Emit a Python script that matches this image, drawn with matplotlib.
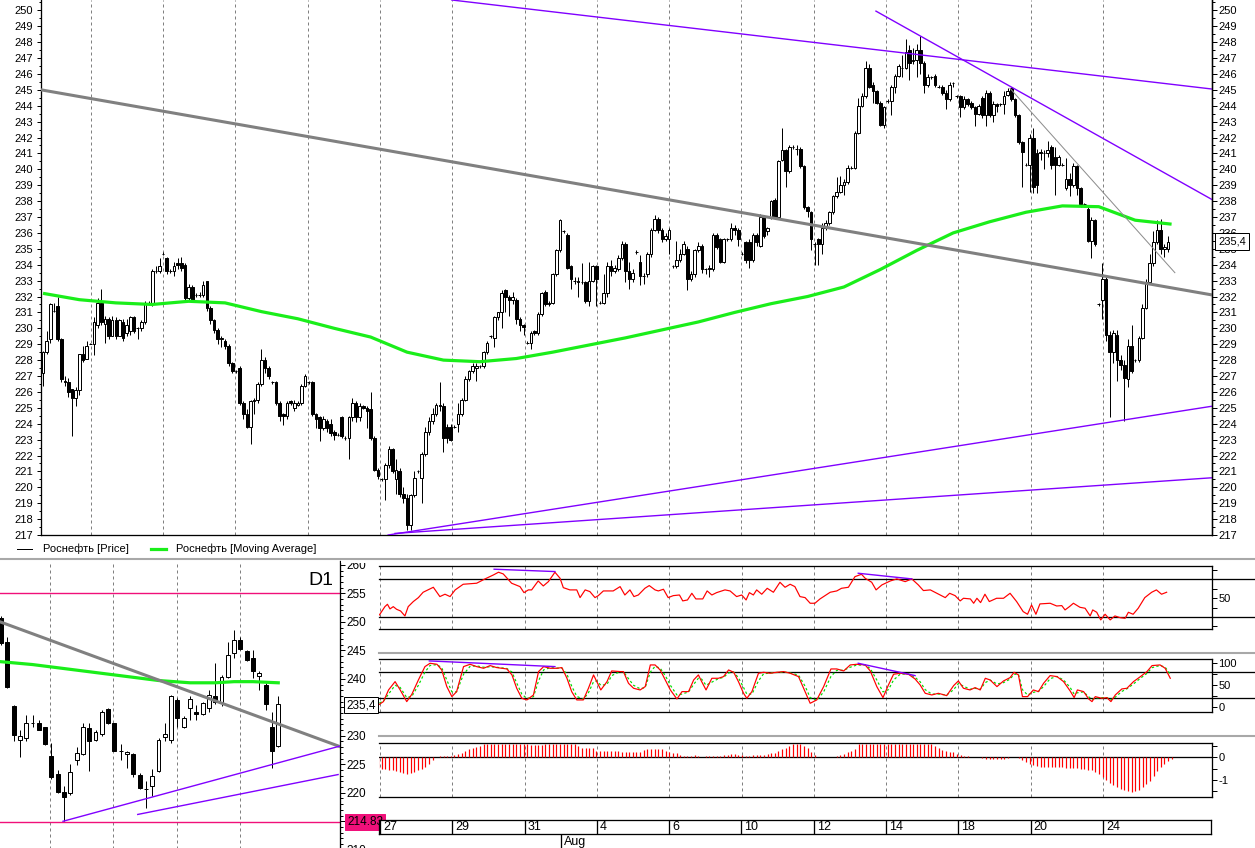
import numpy as np
import matplotlib

matplotlib.use("Agg")

import matplotlib.pyplot as plt
from matplotlib.lines import Line2D
from matplotlib.patches import Rectangle
from matplotlib.ticker import MultipleLocator

plt.rcParams["font.family"] = ["Liberation Sans", "DejaVu Sans"]
plt.rcParams["font.size"] = 8

W, H = 1255, 848
PX = 0.72  # one screen pixel in points
GREEN = "#1aee1a"
PURPLE = "#8000ff"
PINK = "#f0107a"
GRAY = "#808080"
SEP = "#a8a8a8"

# ---------------- hourly candles (main chart) ----------------
OPEN = [
    227.2, 228.5, 229.3, 231.1, 231.4, 229.3, 226.7, 226.6, 226.2, 225.6,
    226.1, 228.4, 228.1, 229.0, 229.0, 230.2, 231.6, 230.3, 230.6, 229.5,
    230.5, 229.5, 230.4, 229.7, 229.8, 230.7, 230.0, 230.0, 230.4, 231.6,
    231.5, 233.6, 233.6, 234.7, 234.4, 233.6, 233.6, 234.1, 234.1, 234.0,
    231.9, 232.6, 232.1, 232.1, 232.1, 233.0, 231.3, 230.5, 229.9, 229.3,
    229.2, 228.9, 227.8, 227.3, 227.5, 225.3, 224.6, 223.8, 225.4, 225.5,
    226.5, 228.0, 227.5, 226.6, 226.6, 225.3, 224.6, 224.5, 225.4, 225.0,
    225.2, 225.3, 226.4, 226.6, 226.6, 224.6, 224.4, 223.7, 224.2, 224.0,
    223.5, 223.3, 224.4, 223.1, 223.1, 224.4, 225.3, 224.4, 225.1, 225.0,
    224.9, 223.1, 221.1, 220.5, 220.5, 221.4, 222.4, 220.5, 221.0, 219.6,
    219.3, 217.6, 219.5, 221.0, 220.6, 222.1, 223.5, 224.2, 224.6, 225.2,
    225.1, 223.8, 223.8, 223.8, 224.0, 224.6, 225.5, 226.8, 227.3, 227.5,
    227.6, 227.6, 228.5, 229.5, 229.4, 230.7, 231.0, 232.4, 232.0, 231.8,
    231.8, 230.6, 230.2, 229.1, 229.1, 229.8, 229.7, 230.9, 232.3, 231.5,
    231.6, 233.4, 234.9, 236.1, 235.9, 233.9, 233.0, 232.9, 232.9, 232.9,
    231.7, 233.0, 233.9, 231.6, 231.6, 232.2, 233.9, 233.6, 233.7, 234.4,
    235.3, 233.6, 233.1, 234.8, 234.2, 233.3, 233.4, 234.7, 236.2, 236.9,
    236.2, 235.6, 235.6, 233.9, 233.9, 234.3, 234.7, 235.0, 233.1, 233.4,
    234.9, 235.2, 233.7, 233.8, 233.7, 235.9, 235.6, 234.2, 235.6, 235.6,
    236.3, 236.2, 234.7, 235.4, 235.4, 234.3, 235.9, 235.2, 237.0, 236.1,
    237.0, 238.1, 237.0, 240.6, 241.2, 239.9, 241.4, 241.3, 241.3, 240.2,
    237.6, 237.3, 235.3, 235.6, 235.3, 236.3, 236.6, 237.3, 238.3, 238.6,
    239.0, 239.2, 240.1, 240.1, 242.3, 244.0, 244.6, 246.4, 245.3, 244.9,
    244.2, 242.8, 244.3, 244.3, 245.2, 245.9, 246.4, 246.4, 247.5, 246.8,
    246.9, 247.5, 246.7, 245.3, 245.8, 245.9, 245.2, 245.2, 244.8, 244.4,
    245.4, 244.6, 244.6, 243.9, 244.4, 244.2, 243.9, 243.5, 244.5, 243.4,
    244.8, 243.4, 244.1, 244.1, 244.1, 244.7, 245.1, 244.4, 243.4, 241.7,
    240.3, 240.3, 242.0, 241.0, 241.0, 241.0, 241.0, 241.4, 240.8, 240.3,
    240.3, 238.8, 239.4, 239.0, 240.2, 238.8, 237.8, 237.5, 235.5, 236.8,
    231.5, 231.8, 233.1, 229.6, 228.5, 229.6, 228.0, 227.7, 226.8, 228.9,
    228.0, 228.0, 229.4, 231.3, 232.9, 234.1, 235.4, 236.2, 235.0, 235.0,
]
CLOSE = [
    228.5, 229.2, 231.5, 231.1, 229.3, 226.8, 226.6, 226.0, 225.6, 226.1,
    228.4, 228.0, 228.9, 229.0, 230.4, 231.6, 230.4, 230.6, 229.5, 230.5,
    229.5, 230.5, 229.4, 230.2, 230.7, 229.8, 230.0, 230.4, 231.6, 231.6,
    233.6, 233.6, 233.9, 234.7, 233.6, 233.6, 233.9, 234.0, 233.8, 231.9,
    232.6, 231.8, 232.1, 232.1, 232.7, 231.3, 230.5, 229.9, 229.3, 229.4,
    228.9, 227.8, 227.3, 227.3, 225.3, 224.6, 223.8, 225.4, 225.5, 226.5,
    228.0, 227.5, 227.0, 226.6, 225.3, 224.5, 224.5, 225.3, 225.3, 225.3,
    225.3, 226.4, 227.0, 226.6, 224.6, 224.3, 223.7, 224.3, 223.7, 223.4,
    223.3, 223.3, 223.2, 223.1, 224.4, 225.3, 224.4, 225.1, 225.0, 224.8,
    223.1, 221.1, 220.7, 220.5, 221.4, 222.4, 221.0, 221.1, 219.6, 219.3,
    217.6, 219.5, 220.6, 221.0, 222.1, 223.5, 224.2, 224.6, 225.2, 225.1,
    223.1, 223.1, 223.0, 223.8, 224.6, 225.5, 226.8, 227.3, 227.6, 227.6,
    227.6, 228.5, 229.1, 229.5, 230.7, 231.0, 232.2, 232.0, 231.8, 232.0,
    230.6, 230.2, 230.1, 229.1, 229.7, 229.7, 230.9, 232.2, 231.5, 231.6,
    233.4, 234.9, 236.8, 236.1, 233.8, 233.1, 233.0, 233.0, 232.9, 231.7,
    233.0, 233.9, 233.1, 231.6, 232.2, 233.9, 233.6, 233.8, 234.4, 235.3,
    233.6, 233.1, 233.5, 234.8, 233.3, 233.3, 234.7, 236.2, 236.9, 236.2,
    235.6, 235.8, 236.2, 233.9, 234.3, 234.7, 235.3, 233.1, 233.4, 234.9,
    235.2, 233.7, 233.7, 233.7, 235.9, 235.1, 234.2, 235.6, 235.6, 236.3,
    236.2, 235.6, 234.7, 234.3, 234.3, 235.9, 235.4, 237.0, 235.8, 236.3,
    238.0, 237.0, 240.5, 241.2, 239.9, 241.4, 241.4, 241.3, 240.2, 237.6,
    237.4, 235.6, 235.3, 235.3, 236.3, 236.6, 237.3, 238.3, 238.6, 239.0,
    239.2, 240.1, 240.1, 242.3, 244.0, 244.6, 246.4, 245.2, 244.9, 244.2,
    242.8, 243.9, 244.3, 245.2, 245.9, 246.5, 246.4, 247.4, 246.7, 246.9,
    247.5, 246.7, 245.3, 245.8, 245.8, 245.3, 245.2, 244.8, 244.4, 245.3,
    245.4, 244.6, 243.9, 244.4, 244.1, 243.9, 243.5, 244.0, 243.4, 244.8,
    243.4, 244.1, 244.0, 244.1, 244.6, 244.9, 244.4, 243.4, 241.7, 241.1,
    240.3, 242.0, 238.9, 239.0, 241.1, 241.0, 241.2, 240.3, 240.3, 240.8,
    240.3, 239.4, 239.0, 240.2, 238.8, 237.8, 237.8, 235.5, 236.8, 235.3,
    231.5, 233.1, 229.6, 228.5, 229.7, 228.0, 227.7, 226.9, 228.9, 227.3,
    228.0, 229.4, 231.3, 232.9, 234.1, 235.4, 236.2, 235.0, 235.1, 235.4,
]
HIGH = [
    228.6, 229.8, 231.6, 231.6, 232.0, 229.4, 227.0, 226.9, 226.2, 226.3,
    228.4, 228.9, 229.2, 229.1, 230.7, 231.9, 232.5, 230.8, 230.7, 230.8,
    230.7, 230.6, 230.6, 230.6, 230.8, 230.8, 230.1, 230.5, 231.7, 231.7,
    233.7, 233.9, 234.4, 234.8, 234.5, 233.7, 234.2, 234.4, 234.5, 234.1,
    232.8, 232.7, 232.2, 232.3, 233.0, 233.0, 231.4, 230.6, 230.0, 229.5,
    229.3, 229.0, 227.9, 227.4, 227.6, 225.4, 224.9, 225.5, 225.6, 226.6,
    228.7, 228.2, 227.6, 226.7, 226.7, 225.4, 224.7, 225.4, 225.5, 225.5,
    225.4, 226.5, 227.1, 226.7, 226.7, 224.7, 224.5, 224.5, 224.3, 224.3,
    223.6, 223.4, 224.5, 223.2, 224.5, 225.6, 225.4, 225.3, 225.2, 225.1,
    226.0, 223.2, 221.2, 220.6, 221.5, 222.6, 222.5, 221.8, 221.2, 220.0,
    219.6, 219.6, 221.0, 221.1, 222.2, 223.8, 224.4, 225.0, 225.3, 226.6,
    225.3, 224.0, 224.0, 223.9, 225.3, 225.6, 227.0, 227.4, 227.8, 227.8,
    227.7, 228.6, 229.2, 229.6, 230.8, 231.0, 232.4, 232.5, 232.1, 232.3,
    231.9, 230.7, 230.3, 229.2, 229.8, 229.9, 231.0, 232.3, 232.4, 231.7,
    233.5, 235.0, 236.9, 236.2, 236.0, 234.0, 233.2, 233.2, 234.1, 233.0,
    234.2, 234.0, 234.0, 231.7, 233.4, 234.2, 234.3, 234.0, 234.6, 235.5,
    235.4, 234.2, 233.7, 234.9, 234.6, 233.5, 234.8, 236.3, 237.1, 237.0,
    236.3, 236.0, 236.3, 234.0, 235.5, 235.0, 235.5, 235.2, 233.6, 235.0,
    235.4, 235.3, 233.8, 234.0, 236.0, 236.0, 235.7, 235.7, 235.7, 236.6,
    236.5, 236.3, 234.8, 235.5, 235.6, 236.0, 236.0, 237.2, 237.1, 236.4,
    238.1, 238.2, 240.6, 242.6, 241.3, 241.5, 241.5, 241.5, 241.4, 240.3,
    237.7, 237.4, 235.4, 235.7, 236.6, 236.8, 237.4, 238.4, 239.5, 239.6,
    239.4, 240.3, 240.2, 242.4, 244.5, 244.8, 246.8, 246.6, 245.5, 245.0,
    244.3, 244.0, 244.4, 245.3, 246.0, 246.6, 247.2, 248.2, 247.8, 247.6,
    247.9, 248.4, 246.8, 246.0, 245.9, 246.0, 245.3, 245.3, 245.0, 245.5,
    245.5, 244.7, 244.7, 244.6, 244.5, 244.3, 244.0, 244.1, 244.6, 245.0,
    244.9, 244.3, 244.2, 244.2, 244.9, 245.1, 245.2, 244.5, 243.5, 241.8,
    240.4, 242.2, 242.6, 241.3, 241.3, 241.2, 241.8, 241.5, 241.4, 240.9,
    240.4, 240.7, 239.8, 240.4, 240.3, 238.9, 237.9, 237.6, 237.0, 236.9,
    231.6, 234.1, 233.2, 229.8, 229.9, 229.9, 228.3, 228.0, 229.3, 230.2,
    228.1, 229.5, 231.5, 233.1, 234.7, 236.1, 236.8, 236.9, 235.3, 235.8,
]
LOW = [
    226.4, 228.4, 229.1, 231.0, 229.2, 226.6, 226.4, 225.7, 223.2, 225.1,
    225.8, 227.9, 228.1, 229.0, 228.3, 230.0, 230.2, 229.1, 229.3, 229.5,
    229.3, 229.5, 229.2, 229.5, 229.6, 229.7, 229.3, 229.8, 230.3, 231.5,
    231.4, 233.5, 233.5, 234.6, 233.4, 233.5, 233.3, 233.7, 233.6, 231.8,
    231.7, 231.7, 232.0, 232.0, 232.0, 231.1, 230.3, 229.7, 229.0, 228.8,
    228.7, 227.6, 227.2, 227.2, 225.2, 224.3, 223.7, 222.7, 224.6, 225.3,
    226.4, 227.2, 226.8, 226.5, 225.2, 224.2, 223.9, 224.3, 225.2, 224.8,
    225.1, 225.2, 226.3, 226.5, 224.5, 223.7, 222.9, 223.6, 223.5, 223.2,
    223.0, 223.2, 223.1, 223.0, 221.8, 224.2, 224.1, 224.2, 224.9, 223.7,
    223.0, 221.0, 220.5, 220.4, 219.2, 221.2, 220.9, 219.6, 219.4, 219.0,
    217.3, 217.3, 219.4, 220.9, 219.0, 222.0, 223.3, 224.0, 224.5, 224.8,
    222.2, 222.8, 222.9, 223.7, 223.5, 224.5, 225.4, 226.7, 227.2, 226.7,
    227.5, 227.5, 228.4, 229.4, 228.8, 230.5, 230.0, 231.0, 230.8, 231.5,
    230.3, 229.8, 229.6, 229.0, 228.7, 229.6, 229.6, 230.8, 231.4, 231.4,
    231.5, 233.3, 234.8, 236.0, 233.7, 232.5, 232.8, 232.0, 232.8, 231.6,
    231.4, 232.9, 231.4, 231.5, 231.5, 232.0, 233.3, 233.5, 233.6, 234.3,
    232.9, 232.5, 232.9, 234.7, 232.7, 232.8, 233.2, 234.5, 236.1, 236.0,
    235.4, 235.5, 234.7, 233.8, 233.8, 234.2, 234.6, 232.4, 233.0, 233.2,
    234.8, 233.5, 233.4, 233.2, 233.6, 235.0, 234.1, 234.1, 235.5, 235.5,
    235.9, 235.2, 234.6, 234.1, 233.8, 234.2, 235.2, 235.1, 235.7, 235.9,
    236.9, 236.9, 236.9, 240.5, 238.9, 239.8, 241.3, 240.9, 240.1, 237.5,
    237.0, 234.9, 234.0, 234.0, 234.7, 236.2, 236.5, 237.2, 238.2, 238.5,
    238.4, 239.1, 240.0, 240.0, 242.2, 243.9, 244.5, 245.1, 244.2, 244.1,
    242.7, 242.6, 244.2, 243.4, 244.8, 245.8, 245.8, 246.3, 245.6, 246.6,
    245.8, 246.0, 244.8, 245.2, 245.7, 245.2, 245.1, 244.7, 243.8, 244.3,
    245.2, 244.5, 243.3, 243.8, 244.0, 243.8, 242.7, 243.4, 243.2, 242.7,
    243.3, 243.0, 243.6, 244.0, 243.5, 244.6, 244.3, 243.3, 241.6, 238.9,
    240.2, 238.6, 238.5, 238.5, 240.6, 240.0, 240.8, 240.0, 238.4, 240.2,
    240.2, 238.7, 238.3, 238.9, 238.4, 237.6, 237.6, 235.4, 234.4, 235.2,
    231.4, 230.6, 229.2, 224.4, 227.8, 226.7, 227.4, 224.2, 226.3, 227.2,
    227.9, 227.9, 229.3, 231.2, 232.8, 233.9, 235.3, 234.7, 234.5, 234.8,
]

# moving average, read every 10th candle
MA_IDX = list(range(0, 320, 10))
MA_VAL = [
    232.2, 231.8, 231.6, 231.5, 231.7, 231.6, 231.05, 230.6, 230.0, 229.45,
    228.5, 228.0, 227.9, 228.1, 228.5, 228.95, 229.4, 229.9, 230.4, 231.0,
    231.55, 232.0, 232.6, 233.7, 234.9, 236.0, 236.7, 237.3, 237.7, 237.65,
    236.8, 236.55,
]

# drawn lines on the main chart: (candle index, price) end points
GRAY_TREND = [(-0.55, 245.0), (321.1, 232.1)]
THIN_TREND = [(265.6, 245.1), (310.9, 233.5)]
PURPLE_TRENDS = [
    [(112.3, 250.65), (321.1, 245.05)],
    [(228.8, 249.95), (321.1, 238.1)],
    [(94.8, 217.0), (321.1, 225.1)],
    [(96.7, 217.1), (321.1, 220.6)],
]
LAST_PRICE = 235.4

# session grid (every two trading days) and date labels
GRID_FIRST = 13.1
GRID_STEP = 19.86
N_GRID = 15
DATE_LABELS = ["27", "29", "31", "4", "6", "10", "12", "14", "18", "20", "24"]
FIRST_LABELLED = 4

# ---------------- daily candles (D1 panel) ----------------
D_OPEN = [250.6, 246.4, 235.2, 229.2, 229.7, 232.3, 232.3, 231.5, 226.5, 223.3,
          220.2, 220.0, 225.8, 226.8, 231.3, 229.3, 230.3, 234.7, 232.2, 227.3,
          226.8, 226.8, 223.2, 220.6, 221.2, 223.9, 229.8, 229.2, 236.3, 231.6,
          234.8, 234.2, 233.8, 234.8, 237.0, 236.0, 240.4, 244.5, 246.8, 244.8,
          243.6, 240.5, 238.9, 231.6, 228.2]
D_CLOSE = [246.2, 238.6, 230.1, 230.0, 232.3, 232.3, 231.1, 228.6, 222.8, 220.2,
           219.2, 223.7, 227.0, 231.6, 229.0, 230.6, 234.2, 232.2, 227.4, 227.3,
           227.1, 223.3, 220.8, 220.6, 223.0, 229.3, 230.3, 236.9, 233.2, 233.2,
           236.4, 233.8, 235.7, 237.2, 236.0, 240.4, 244.2, 246.8, 245.2, 243.3,
           241.4, 241.0, 235.6, 227.4, 235.6]
D_HIGH = [251.0, 247.4, 235.4, 231.0, 233.6, 233.6, 232.8, 231.6, 228.8, 224.0,
          221.2, 225.0, 228.0, 232.3, 232.3, 231.0, 234.5, 234.9, 232.3, 228.6,
          227.4, 227.0, 223.4, 222.0, 224.2, 229.6, 232.3, 237.2, 236.6, 233.5,
          236.9, 235.4, 236.0, 238.1, 242.8, 240.6, 246.5, 248.5, 247.4, 245.1,
          245.1, 241.3, 239.2, 234.2, 237.0]
D_LOW = [246.0, 238.3, 229.0, 226.3, 229.0, 231.6, 231.0, 228.4, 222.5, 220.0,
         215.0, 219.6, 224.9, 226.6, 223.8, 229.0, 230.0, 232.0, 227.3, 225.8,
         224.4, 222.8, 220.6, 217.4, 219.5, 223.6, 229.0, 228.8, 231.6, 231.3,
         232.8, 232.7, 233.6, 234.2, 235.6, 235.3, 240.2, 243.6, 245.0, 243.1,
         240.1, 238.0, 234.6, 224.4, 228.0]
D_MA_IDX = [0, 5, 10, 15, 20, 25, 30, 34, 37, 40, 44]
D_MA_VAL = [243.0, 242.5, 241.8, 241.1, 240.4, 239.7, 239.3, 239.3, 239.5, 239.5, 239.3]
D_GRAY = [(-0.16, 250.0), (53.8, 228.1)]
D_PURPLE = [[(9.84, 215.0), (53.8, 228.2)], [(21.7, 216.2), (53.5, 223.2)]]
D_LEVELS = [255.0, 214.83]
D_GRID = [7.8, 17.8, 27.9, 37.9]
D_TICKS = [210, 215, 220, 225, 230, 235, 240, 245, 250, 255, 260]
D_HIDDEN = [215, 235]  # covered by the price boxes in the original

# ---------------- indicators ----------------
RSI_PTS = [
    (92.4, 32.3), (93.9, 41.1), (94.6, 43.6), (95.3, 38.7), (96.2, 41.1), (97.1, 38.3),
    (98.2, 36.5), (99.4, 31.2), (100.3, 41.1), (101.7, 46.5), (103.1, 50.7), (104.4, 56.4),
    (107.2, 61.7), (109.0, 51.8), (110.4, 54.3), (111.8, 51.8), (113.2, 58.9), (115.4, 64.9),
    (119.1, 66.0), (121.4, 70.6), (123.7, 74.8), (125.1, 77.7), (126.4, 75.9), (128.7, 66.0),
    (131.0, 62.4), (132.1, 56.0), (133.3, 58.9), (134.2, 58.9), (136.0, 68.4), (137.4, 63.1),
    (138.8, 67.7), (140.6, 77.7), (142.0, 71.3), (142.9, 61.3), (144.7, 58.9), (146.6, 58.9),
    (147.5, 50.7), (148.9, 58.9), (150.2, 57.1), (151.6, 50.7), (152.5, 52.8), (153.9, 57.8),
    (156.6, 57.8), (158.5, 62.4), (159.8, 53.5), (161.2, 58.9), (162.3, 51.8), (163.5, 53.5),
    (165.3, 60.6), (166.5, 63.5), (168.1, 58.9), (169.0, 57.8), (170.4, 59.6), (171.7, 50.7),
    (173.1, 52.8), (174.8, 53.5), (175.7, 47.2), (177.0, 48.2), (178.2, 55.3), (179.3, 49.3),
    (181.2, 49.3), (182.4, 57.8), (183.7, 53.5), (185.0, 56.0), (187.3, 58.9), (188.7, 57.8),
    (190.5, 51.8), (191.9, 53.5), (193.1, 48.2), (194.0, 56.0), (195.1, 53.5), (196.0, 58.9),
    (197.4, 54.3), (198.9, 60.6), (200.6, 56.4), (202.4, 67.0), (203.8, 61.7), (205.2, 64.9),
    (206.5, 62.4), (207.9, 51.8), (209.3, 50.7), (210.7, 44.7), (212.0, 44.7), (213.4, 49.3),
    (216.2, 56.4), (218.0, 57.8), (219.3, 60.6), (221.2, 61.7), (223.0, 73.0), (224.8, 75.5),
    (225.8, 71.3), (227.6, 67.0), (228.8, 58.9), (230.4, 64.2), (232.7, 68.4), (234.5, 70.6),
    (236.8, 67.7), (238.6, 70.6), (240.4, 64.2), (241.8, 58.2), (243.7, 58.9), (245.5, 55.3),
    (247.8, 50.7), (249.0, 55.3), (250.5, 52.8), (251.9, 47.2), (252.8, 50.0), (254.7, 49.3),
    (255.6, 44.7), (256.5, 50.0), (257.5, 45.4), (258.7, 54.3), (259.9, 46.5), (261.9, 50.0),
    (263.8, 50.0), (265.6, 55.3), (267.4, 46.5), (269.2, 35.8), (270.4, 33.0), (271.5, 42.9),
    (272.7, 33.0), (273.8, 44.0), (276.6, 44.7), (278.4, 41.8), (279.8, 42.2), (280.7, 37.6),
    (281.9, 41.1), (283.0, 44.7), (284.8, 40.4), (286.2, 39.4), (287.6, 31.2), (288.3, 37.6),
    (289.4, 35.1), (290.5, 27.0), (291.7, 33.0), (293.1, 27.0), (294.4, 31.2), (295.8, 29.4),
    (297.2, 28.7), (298.1, 35.1), (299.4, 33.0), (300.8, 39.4), (302.6, 50.7), (304.5, 56.4),
    (305.8, 58.9), (307.2, 54.3), (308.6, 56.4),
]
RSI_DIVERGENCE = [[(123.9, 80.9), (140.6, 78.4)], [(223.9, 76.6), (238.6, 70.6)]]

# stochastic: (candle index, %K, %D)
STOCH_PTS = [
    (92.4, 6.8, 10), (93.5, 12.9, 14), (94.9, 39.4, 30), (96.7, 58.3, 50), (98.1, 39.4, 45),
    (99.9, 12.9, 22), (101.3, 29.5, 25), (103.1, 62.1, 50), (104.9, 92.4, 80), (106.3, 100, 95),
    (108.2, 97.7, 97), (109.5, 84.8, 90), (110.9, 47, 62), (112.3, 24.2, 35), (113.6, 35.6, 35),
    (115.5, 92.4, 75), (117.3, 97.7, 93), (119.1, 92.4, 94), (121.0, 88.6, 91), (122.8, 94.7, 92),
    (124.6, 90.2, 91), (127.4, 87.1, 88), (128.8, 73.5, 80), (130.1, 43.2, 55), (131.5, 20.5, 30),
    (132.9, 16.7, 20), (134.7, 28, 24), (136.1, 81.1, 60), (137.5, 92.4, 85), (139.3, 88.6, 90),
    (141.1, 88.6, 89), (142.5, 90.2, 89), (143.9, 65.9, 75), (145.2, 35.6, 48), (146.6, 16.7, 25),
    (148.4, 16.7, 18), (149.8, 43.2, 33), (151.2, 73.5, 58), (152.1, 58.3, 60), (153.2, 39.4, 50),
    (154.9, 58.3, 52), (156.2, 82.6, 72), (158.5, 81.1, 81), (159.4, 81.1, 81), (160.8, 54.5, 65),
    (162.2, 43.2, 50), (164.0, 39.4, 42), (165.4, 47, 45), (166.8, 96.2, 80), (168.1, 96.2, 93),
    (169.5, 84.8, 89), (170.9, 62.1, 72), (172.3, 39.4, 50), (174.1, 18.9, 28), (175.5, 35.6, 30),
    (177.3, 35.6, 35), (178.7, 62.1, 52), (180.0, 73.5, 66), (180.9, 58.3, 64), (182.1, 39.4, 50),
    (183.7, 65.9, 57), (185.5, 65.9, 65), (186.9, 69.7, 68), (188.3, 84.8, 78), (189.7, 79.5, 80),
    (191.0, 58.3, 67), (192.4, 31.8, 45), (193.3, 20.5, 30), (194.7, 35.6, 30), (196.5, 77.3, 60),
    (197.9, 79.5, 76), (199.7, 77.3, 78), (201.6, 79.5, 79), (203.4, 81.1, 80), (205.2, 77.3, 78),
    (207.5, 69.7, 73), (209.3, 35.6, 48), (210.7, 9.1, 22), (212.5, 16.7, 16), (214.4, 47, 35),
    (216.4, 87.1, 70), (218.0, 87.1, 84), (219.9, 82.6, 84), (221.7, 96.2, 91), (223.5, 97.7, 96),
    (225.8, 96.2, 96), (227.2, 82.6, 88), (229.0, 47, 62), (230.7, 22, 35), (232.2, 50.8, 40),
    (233.6, 75, 62), (235.4, 77.3, 75), (237.7, 75, 76), (239.5, 64.4, 68), (240.9, 50.8, 58),
    (242.3, 31.8, 40), (244.1, 28, 30), (245.9, 31.8, 30), (248.2, 26.5, 28), (250.1, 49.2, 40),
    (251.4, 59.8, 54), (252.8, 43.2, 48), (254.6, 39.4, 41), (256.0, 44.7, 43), (257.4, 39.4, 41),
    (258.8, 65.9, 56), (260.1, 62.1, 62), (262.0, 47, 53), (263.8, 59.8, 56), (265.6, 67.4, 64),
    (266.7, 79.5, 75), (267.9, 73.5, 75), (269.0, 24.2, 40), (270.4, 24.2, 28), (272.0, 39.4, 34),
    (273.4, 35.6, 36), (274.8, 54.5, 47), (276.6, 72, 65), (278.5, 69.7, 70), (280.3, 58.3, 62),
    (282.1, 37.1, 45), (283.2, 22, 30), (284.1, 39.4, 33), (285.8, 35.6, 35), (287.2, 18.9, 24),
    (288.1, 12.9, 17), (289.0, 24.2, 21), (290.8, 20.5, 22), (292.2, 22, 22), (293.3, 12.9, 17),
    (294.5, 28, 23), (296.3, 41.7, 36), (297.7, 43.2, 42), (299.5, 58.3, 53), (301.4, 69.7, 66),
    (303.2, 81.1, 77), (304.6, 94.7, 90), (306.8, 96.2, 95), (308.2, 88.6, 91), (309.6, 65.9, 75),
]
STOCH_DIVERGENCE = [[(106.1, 105.3), (140.6, 92.4)], [(223.9, 100.0), (239.5, 72.0)]]

MACD_START = 92
MACD_HIST = [
    -0.47, -0.50, -0.53, -0.55, -0.57, -0.60, -0.64, -0.70, -0.72, -0.71,
    -0.65, -0.58, -0.53, -0.42, -0.30, -0.12, 0.00, 0.06, 0.07, 0.06,
    0.05, 0.10, 0.14, 0.22, 0.29, 0.37, 0.44, 0.48, 0.53, 0.58,
    0.60, 0.60, 0.60, 0.60, 0.60, 0.60, 0.60, 0.60, 0.60, 0.60,
    0.60, 0.60, 0.56, 0.56, 0.56, 0.57, 0.58, 0.60, 0.60, 0.60,
    0.60, 0.60, 0.60, 0.60, 0.60, 0.50, 0.44, 0.44, 0.44, 0.44,
    0.30, 0.29, 0.29, 0.29, 0.29, 0.29, 0.29, 0.26, 0.25, 0.25,
    0.24, 0.24, 0.26, 0.33, 0.38, 0.38, 0.38, 0.38, 0.38, 0.30,
    0.25, 0.22, 0.19, 0.12, 0.08, 0.06, 0.08, 0.10, 0.06, 0.03,
    0.06, 0.06, 0.07, 0.07, 0.08, 0.10, 0.11, 0.15, 0.14, 0.13,
    0.10, 0.08, 0.07, 0.10, 0.10, 0.10, 0.13, 0.15, 0.20, 0.21,
    0.28, 0.36, 0.44, 0.50, 0.60, 0.60, 0.58, 0.50, 0.42, 0.25,
    0.12, 0.04, 0.03, 0.03, 0.03, 0.04, 0.08, 0.11, 0.16, 0.23,
    0.30, 0.40, 0.58, 0.60, 0.60, 0.60, 0.60, 0.60, 0.60, 0.60,
    0.60, 0.60, 0.60, 0.60, 0.60, 0.60, 0.60, 0.60, 0.60, 0.60,
    0.60, 0.60, 0.58, 0.52, 0.44, 0.35, 0.29, 0.26, 0.24, 0.16,
    0.12, 0.08, 0.05, 0.03, 0.00, 0.00, -0.03, -0.05, -0.06, -0.07,
    -0.07, -0.06, -0.05, -0.03, 0.00, 0.00, -0.04, -0.12, -0.20, -0.27,
    -0.33, -0.40, -0.41, -0.41, -0.41, -0.41, -0.41, -0.41, -0.42, -0.45,
    -0.47, -0.48, -0.48, -0.50, -0.52, -0.55, -0.58, -0.63, -0.76, -0.88,
    -1.00, -1.12, -1.23, -1.34, -1.42, -1.47, -1.52, -1.53, -1.52, -1.45,
    -1.33, -1.18, -1.03, -0.83, -0.62, -0.42, -0.28, -0.16, -0.08,
]

# ---------------- layout helpers ----------------
fig = plt.figure(figsize=(W / 100, H / 100), dpi=100)
fig.patch.set_facecolor("white")


def px_axes(x0, y0, x1, y1):
    return fig.add_axes([x0 / W, 1 - y1 / H, (x1 - x0) / W, (y1 - y0) / H])


def fig_line(x0, y0, x1, y1, **kw):
    fig.add_artist(Line2D([x0 / W, x1 / W], [1 - y0 / H, 1 - y1 / H],
                          transform=fig.transFigure, **kw))


def draw_candles(ax, o, h, l, c, width):
    o, h, l, c = map(np.asarray, (o, h, l, c))
    x = np.arange(len(o))
    ax.vlines(x, l, h, color="black", lw=PX, zorder=2)
    up = c >= o
    bottom = np.minimum(o, c)
    height = np.abs(c - o)
    ax.bar(x[up], height[up], width, bottom=bottom[up], facecolor="white",
           edgecolor="black", lw=PX, zorder=3)
    ax.bar(x[~up], height[~up], width, bottom=bottom[~up], facecolor="black",
           edgecolor="black", lw=PX, zorder=3)


def plot_seg(ax, seg, **kw):
    (x0, y0), (x1, y1) = seg
    ax.plot([x0, x1], [y0, y1], **kw)


grid_pos = [GRID_FIRST + k * GRID_STEP for k in range(N_GRID)]
dash = (0, (3, 3))
XLIM_MAIN = (-0.55, 321.1)
XLIM_IND = (92.28, 321.06)

# ---------------- main price chart ----------------
ax = px_axes(41, 0, 1212, 535)
ax.set_xlim(*XLIM_MAIN)
ax.set_ylim(217, 250.65)
ax.spines["top"].set_visible(False)
for s in ("left", "right", "bottom"):
    ax.spines[s].set_linewidth(PX * 1.3)
ax.tick_params(axis="x", bottom=False, labelbottom=False)
ax.yaxis.set_major_locator(MultipleLocator(1))
ax.yaxis.set_minor_locator(MultipleLocator(0.5))
ax.tick_params(axis="y", which="major", length=3.2, width=PX, pad=2.5, labelsize=8)
ax.tick_params(axis="y", which="minor", length=1.6, width=PX)

for gx in grid_pos:
    ax.axvline(gx, color=GRAY, lw=PX, ls=dash, zorder=1)

draw_candles(ax, OPEN, HIGH, LOW, CLOSE, 0.72)
ax.plot(MA_IDX, MA_VAL, color=GREEN, lw=2.3, zorder=4, solid_capstyle="butt")
plot_seg(ax, GRAY_TREND, color=GRAY, lw=2.2, zorder=4)
plot_seg(ax, THIN_TREND, color="#8c8c8c", lw=PX, zorder=4)
for seg in PURPLE_TRENDS:
    plot_seg(ax, seg, color=PURPLE, lw=1.0, zorder=4)

ax_r = ax.twinx()
ax_r.set_ylim(ax.get_ylim())
for s in ("left", "top", "bottom"):
    ax_r.spines[s].set_visible(False)
ax_r.spines["right"].set_linewidth(PX * 1.3)
ax_r.yaxis.set_major_locator(MultipleLocator(1))
ax_r.yaxis.set_minor_locator(MultipleLocator(0.5))
ax_r.tick_params(axis="y", which="major", length=3.6, width=PX, pad=1, labelsize=8)
ax_r.tick_params(axis="y", which="minor", length=2.0, width=PX)
ax_r.annotate(f"{LAST_PRICE:.1f}".replace(".", ","), xy=(1, LAST_PRICE),
              xycoords=ax_r.get_yaxis_transform(), xytext=(6, 1),
              textcoords="offset pixels", ha="left", va="center", fontsize=8,
              annotation_clip=False,
              bbox=dict(boxstyle="square,pad=0.28", fc="white", ec="black", lw=PX))

# legend row
fig_line(17, 549, 32, 549, color="black", lw=PX)
fig.text(43 / W, 1 - 549 / H, "Роснефть [Price]", ha="left", va="center", fontsize=8)
fig_line(151, 549, 166, 549, color=GREEN, lw=2.3)
fig.text(176 / W, 1 - 549 / H, "Роснефть [Moving Average]", ha="left", va="center", fontsize=8)

# ---------------- daily panel ----------------
axd = px_axes(0, 561, 340, 852)
axd.set_xlim(-0.16, 53.8)
axd.set_ylim(209.61, 260.67)
for s in ("left", "top", "bottom"):
    axd.spines[s].set_visible(False)
axd.spines["right"].set_linewidth(PX * 1.3)
axd.tick_params(axis="x", bottom=False, labelbottom=False)
axd.yaxis.tick_right()
axd.set_yticks(D_TICKS, ["" if t in D_HIDDEN else str(t) for t in D_TICKS])
axd.yaxis.set_minor_locator(MultipleLocator(1))
axd.tick_params(axis="y", which="major", length=3.6, width=PX, pad=1, labelsize=8.5)
axd.tick_params(axis="y", which="minor", length=2.0, width=PX)
for gx in D_GRID:
    axd.axvline(gx, color=GRAY, lw=PX, ls=dash, zorder=1)
for lvl in D_LEVELS:
    axd.axhline(lvl, color=PINK, lw=1.0, zorder=1.5)
draw_candles(axd, D_OPEN, D_HIGH, D_LOW, D_CLOSE, 0.62)
axd.plot(D_MA_IDX, D_MA_VAL, color=GREEN, lw=2.3, zorder=4)
plot_seg(axd, D_GRAY, color=GRAY, lw=2.2, zorder=4)
for seg in D_PURPLE:
    plot_seg(axd, seg, color=PURPLE, lw=1.0, zorder=4)
axd.text(333 / 340, 1 - (580.5 - 561) / (852 - 561), "D1", transform=axd.transAxes,
         ha="right", va="center", fontsize=14)
axd.annotate(f"{LAST_PRICE:.1f}".replace(".", ","), xy=(1, LAST_PRICE),
             xycoords=axd.get_yaxis_transform(), xytext=(6, 0),
             textcoords="offset pixels", ha="left", va="center", fontsize=8.5,
             annotation_clip=False,
             bbox=dict(boxstyle="square,pad=0.2", fc="white", ec="black", lw=PX))
axd.annotate(f"{D_LEVELS[1]:.2f}", xy=(1, D_LEVELS[1]),
             xycoords=axd.get_yaxis_transform(), xytext=(7, 0),
             textcoords="offset pixels", ha="left", va="center", fontsize=8.5,
             annotation_clip=False,
             bbox=dict(boxstyle="square,pad=0.15", fc=PINK, ec=PINK, lw=PX))


# ---------------- indicator panels ----------------
def indicator_axes(y0, y1, ylim, ticks, labels, levels):
    a = px_axes(379, y0, 1212, y1)
    a.set_xlim(*XLIM_IND)
    a.set_ylim(*ylim)
    a.spines["left"].set_visible(False)
    for s in ("top", "bottom", "right"):
        a.spines[s].set_linewidth(PX * 1.3)
    a.tick_params(axis="x", bottom=False, labelbottom=False)
    a.yaxis.tick_right()
    a.set_yticks(ticks, labels)
    a.tick_params(axis="y", length=3.6, width=PX, pad=1, labelsize=8)
    for gx in grid_pos[FIRST_LABELLED:]:
        a.axvline(gx, color=GRAY, lw=PX, ls=dash, zorder=1)
    for lvl in levels:
        a.plot([0, (1255 - 379) / (1212 - 379)], [lvl, lvl], transform=a.get_yaxis_transform(),
               color="black", lw=PX * 1.3, clip_on=False, zorder=1.5)
    return a


ax_rsi = indicator_axes(566.3, 629.3, (17, 84), [20, 30, 40, 50, 60, 70, 80],
                        ["", "", "", "50", "", "", ""], [70, 30])
rsi = np.array(RSI_PTS)
ax_rsi.plot(rsi[:, 0], rsi[:, 1], color="red", lw=PX * 1.2, zorder=3)
for seg in RSI_DIVERGENCE:
    plot_seg(ax_rsi, seg, color=PURPLE, lw=1.0, zorder=4)

ax_st = indicator_axes(659.3, 712, (-10.7, 109), [0, 25, 50, 75, 100],
                       ["0", "", "50", "", "100"], [80, 20])
st = np.array(STOCH_PTS, dtype=float)
ax_st.plot(st[:, 0], st[:, 2], color="#00dd00", lw=PX * 1.2, ls=(0, (2, 2)), zorder=2.5)
ax_st.plot(st[:, 0], st[:, 1], color="red", lw=PX * 1.2, zorder=3)
for seg in STOCH_DIVERGENCE:
    plot_seg(ax_st, seg, color=PURPLE, lw=1.0, zorder=4)

ax_m = indicator_axes(742.7, 797.3, (-1.78, 0.66), [0.5, 0, -0.5, -1, -1.5],
                      ["", "0", "", "-1", ""], [])
macd_x = MACD_START + np.arange(len(MACD_HIST))
ax_m.vlines(macd_x, 0, MACD_HIST, color="red", lw=PX * 1.2, zorder=3)
ax_m.axhline(0, color="black", lw=PX * 1.3, zorder=2)

# date strip
ax_dt = px_axes(379, 820, 1211, 834)
ax_dt.set_xlim(XLIM_IND[0], XLIM_IND[0] + (1211 - 379) / 3.641)
ax_dt.set_ylim(0, 1)
ax_dt.set_xticks([])
ax_dt.set_yticks([])
for s in ax_dt.spines.values():
    s.set_linewidth(PX * 1.3)
for gx, lab in zip(grid_pos[FIRST_LABELLED:], DATE_LABELS):
    ax_dt.axvline(gx, color="black", lw=PX * 1.3)
    ax_dt.annotate(lab, xy=(gx, 0.5), xytext=(3, 0), textcoords="offset pixels",
                   ha="left", va="center", fontsize=9)

ax_aug = px_axes(379, 834, 1211, 848)
ax_aug.set_xlim(ax_dt.get_xlim())
ax_aug.set_ylim(0, 1)
ax_aug.axis("off")
aug_pos = (grid_pos[FIRST_LABELLED + 2] + grid_pos[FIRST_LABELLED + 3]) / 2
ax_aug.axvline(aug_pos, color="black", lw=PX * 1.3)
ax_aug.annotate("Aug", xy=(aug_pos, 0.45), xytext=(3, 0), textcoords="offset pixels",
                ha="left", va="center", fontsize=9)

# mask the clipped top label of the daily scale, then the panel separators
fig.add_artist(Rectangle((341 / W, 1 - 562.5 / H), 37 / W, 12 / H,
                         transform=fig.transFigure, fc="white", ec="none", zorder=4))
fig_line(0, 559, 1255, 559, color=SEP, lw=1.5, zorder=5)
fig_line(379, 652.5, 1255, 652.5, color=SEP, lw=1.5, zorder=5)
fig_line(379, 735.5, 1255, 735.5, color=SEP, lw=1.5, zorder=5)

fig.savefig("out.png", dpi=100)
